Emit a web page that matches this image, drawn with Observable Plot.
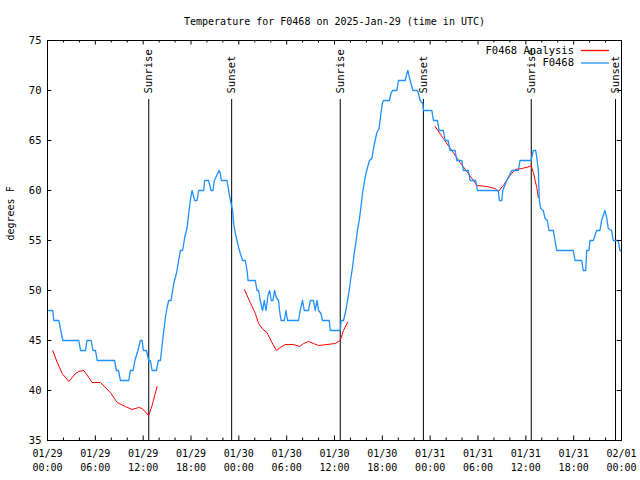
<!DOCTYPE html>
<html>
<head>
<meta charset="utf-8">
<script src="https://cdn.jsdelivr.net/npm/d3@7"></script>
<script src="https://cdn.jsdelivr.net/npm/@observablehq/plot@0.6"></script>
<style>
  html, body { margin: 0; padding: 0; background: #fff; }
  svg { display: block; }
</style>
</head>
<body>
<div id="chart"></div>
<script>
const title = "Temperature for F0468 on 2025-Jan-29 (time in UTC)";
const yLabel = "degrees F";

// hours since 01/29 00:00 UTC
const obsHours = [0.16,0.66,0.79,1.42,1.92,3.92,4.14,4.76,4.95,5.48,5.70,6.02,6.23,8.40,8.65,8.90,9.15,10.19,10.40,10.74,10.96,11.34,11.65,11.87,12.03,12.41,12.69,12.91,13.12,13.66,13.91,14.16,14.37,14.79,15.00,15.20,15.50,15.83,16.17,16.45,16.67,16.95,17.21,17.51,17.71,17.92,18.13,18.46,18.76,18.96,19.59,19.71,20.21,20.51,20.76,20.93,21.34,21.52,21.68,21.80,22.52,22.72,23.02,23.22,23.35,23.56,23.77,23.97,24.19,24.47,24.81,25.03,25.15,26.07,26.28,26.48,26.69,26.98,27.19,27.41,27.66,27.86,28.07,28.28,28.48,28.70,28.98,29.11,29.29,29.70,29.91,30.11,31.49,31.70,31.99,32.21,32.74,32.96,33.37,33.58,33.80,34.00,34.30,34.50,35.34,35.46,36.72,36.84,37.13,37.43,37.63,37.84,38.06,38.26,38.47,38.68,38.88,39.10,39.31,39.51,39.72,39.94,40.14,40.39,40.69,40.89,41.10,41.32,41.60,41.82,42.02,42.14,42.89,43.11,43.32,43.82,44.02,44.86,45.08,45.20,45.33,45.49,45.83,46.40,46.53,46.74,47.08,47.16,48.21,48.41,48.91,49.12,49.66,49.87,50.25,50.50,51.13,51.34,51.97,52.17,52.79,53.01,53.72,53.92,56.55,56.68,56.98,57.11,57.61,58.23,59.06,59.27,60.65,60.94,61.24,61.37,61.57,61.69,61.87,62.19,62.41,62.69,62.91,63.45,63.66,63.87,65.95,66.17,67.00,67.21,67.51,67.63,67.92,68.05,68.46,68.88,69.30,69.51,69.92,70.14,70.34,70.76,70.96,71.59,71.80,71.99];
const obsTemps = [48,48,47,47,45,45,44,44,45,45,44,44,43,43,42,42,41,41,42,42,43,44,45,45,44,44,43,43,42,42,43,43,44.5,47.3,48.3,49,49,50.7,51.7,53,54,54,55.3,56.3,57.7,59,60,59,59,60,60,61,61,60,60,61,61.7,62,61.7,61,61,60,58.7,58,56.7,55.7,55,54.3,53.7,53,53,52,51,51,50,50,49,48,49,48,49.5,50,49,49,50,49.3,49,48,47,47,48,47,47,48,49,48,48,49,49,48,49,48,47.7,47,47,46,46,47,47,48,49,50,51.3,52.3,53.7,54.8,56,57,58.3,59.7,60.7,61.7,62.3,63,63.2,64.2,65,65.8,66.2,67.7,68.8,69,69,69.8,70,70,71,71,71.7,72,71.5,71,70,70,69.7,69,68.7,68,68,67,67,66,66,65,65,64,64,63,63,62,62,61,61,60,60,59,59,60,61,62,62,63,63,64,64,63.3,62,59,58.2,58,57.2,57,56,56,55,54,54,53,53,52,52,54,54,55,55,56,56,57,58,57.3,56.2,56,55,55,54,54];

const anaHours = [0.66,1.22,1.84,2.67,3.51,3.92,4.55,5.18,5.60,6.64,7.89,8.73,9.77,10.61,11.44,11.87,12.69,13.12,13.75,
  24.69,25.44,26.07,26.48,26.91,27.53,28.16,28.70,29.20,29.82,30.86,31.62,32.12,32.74,33.37,34.00,35.05,36.09,36.72,37.13,37.63,
  48.62,49.66,50.71,51.75,52.79,53.42,53.85,55.10,56.14,56.55,57.18,58.02,58.65,59.49,60.53,60.65,60.94,61.37,61.57];
const anaTemps = [44,42.8,41.7,40.9,41.7,41.9,42,41.3,40.8,40.8,39.8,38.8,38.4,38.1,38.3,38.2,37.5,38.5,40.4,
  50.1,48.8,47.7,46.7,46.2,45.8,44.8,44,44.3,44.6,44.6,44.4,44.7,44.9,44.7,44.5,44.6,44.7,45,46,46.8,
  66.4,65.2,64,62.8,61.7,61,60.5,60.4,60.2,59.9,60.5,61.5,62.1,62.2,62.4,62.5,61.8,60.3,59.3];
const anaRun = [1,1,1,1,1,1,1,1,1,1,1,1,1,1,1,1,1,1,1,
  2,2,2,2,2,2,2,2,2,2,2,2,2,2,2,2,2,2,2,2,2,
  3,3,3,3,3,3,3,3,3,3,3,3,3,3,3,3,3,3,3];

const sunHours = [12.7, 23.1, 36.72, 47.15, 60.68, 71.25];
const sunLabels = ["Sunrise", "Sunset", "Sunrise", "Sunset", "Sunrise", "Sunset"];

const xMajorTicks = [0,6,12,18,24,30,36,42,48,54,60,66,72];
const xTickLabels = ["01/29\n00:00","01/29\n06:00","01/29\n12:00","01/29\n18:00","01/30\n00:00","01/30\n06:00","01/30\n12:00","01/30\n18:00","01/31\n00:00","01/31\n06:00","01/31\n12:00","01/31\n18:00","02/01\n00:00"];
const xMinorTicks = [2,4,8,10,14,16,20,22,26,28,32,34,38,40,44,46,50,52,56,58,62,64,68,70];
const yTicks = [35,40,45,50,55,60,65,70,75];

const legendNames = ["F0468 Analysis", "F0468"];
const colAna = "#ff0000";
const colObs = "#1e90ff";
const FONT = "DejaVu Sans Mono, monospace";

const plot = Plot.plot({
  width: 640,
  height: 480,
  marginLeft: 47,
  marginRight: 19,
  marginTop: 40,
  marginBottom: 40,
  style: {fontFamily: FONT, fontSize: "10px", background: "#fff", color: "#000"},
  x: {domain: [0, 72], axis: null},
  y: {domain: [35, 75], axis: null},
  marks: [
    // sunrise / sunset lines
    Plot.ruleX(sunHours, {x: d => d, y1: 35, y2: 69.1, stroke: "#000", strokeWidth: 1}),
    Plot.text(sunHours, {x: d => d, y: 69.7, text: (d, i) => sunLabels[i], rotate: -90, textAnchor: "start", lineAnchor: "middle", fill: "#000", fontSize: 10.5}),
    // data
    Plot.line(anaTemps, {x: (d, i) => anaHours[i], y: d => d, z: (d, i) => anaRun[i], stroke: colAna, strokeWidth: 1}),
    Plot.line(obsTemps, {x: (d, i) => obsHours[i], y: d => d, stroke: colObs, strokeWidth: 1.3}),
    // frame
    Plot.frame({stroke: "#000", strokeWidth: 1}),
    // x ticks (inward, bottom + top)
    Plot.ruleX(xMajorTicks, {x: d => d, y1: 35, y2: 35.45, stroke: "#000"}),
    Plot.ruleX(xMinorTicks, {x: d => d, y1: 35, y2: 35.25, stroke: "#000"}),
    Plot.ruleX(xMajorTicks, {x: d => d, y1: 74.55, y2: 75, stroke: "#000"}),
    Plot.ruleX(xMinorTicks, {x: d => d, y1: 74.75, y2: 75, stroke: "#000"}),
    // y ticks (inward, left + right)
    Plot.ruleY(yTicks, {y: d => d, x1: 0, x2: 0.55, stroke: "#000"}),
    Plot.ruleY(yTicks, {y: d => d, x1: 71.45, x2: 72, stroke: "#000"}),
    // tick labels
    Plot.text(xMajorTicks, {x: d => d, frameAnchor: "bottom", dy: 7, lineAnchor: "top", lineHeight: 1.35, text: (d, i) => xTickLabels[i], fill: "#000", fontSize: 10}),
    Plot.text(yTicks, {y: d => d, frameAnchor: "left", dx: -6, textAnchor: "end", text: d => String(d), fill: "#000", fontSize: 10.5}),
    // title and y label
    Plot.text([title], {frameAnchor: "top", dy: -23, fill: "#000", fontSize: 10}),
    Plot.text([yLabel], {frameAnchor: "left", dx: -37, rotate: -90, fill: "#000", fontSize: 10})
  ]
});

document.getElementById("chart").appendChild(plot);

// legend inside the plot, top-right
const svg = d3.select(plot);
const lg = svg.append("g").attr("font-family", FONT).attr("font-size", 10.5);
[[legendNames[0], colAna, 50.5], [legendNames[1], colObs, 63]].forEach(([name, col, yy]) => {
  lg.append("text").attr("x", 574).attr("y", yy).attr("dy", "0.32em").attr("text-anchor", "end").attr("fill", "#000").text(name);
  lg.append("line").attr("x1", 581).attr("x2", 609).attr("y1", yy).attr("y2", yy).attr("stroke", col).attr("stroke-width", 1.3);
});
</script>
</body>
</html>
